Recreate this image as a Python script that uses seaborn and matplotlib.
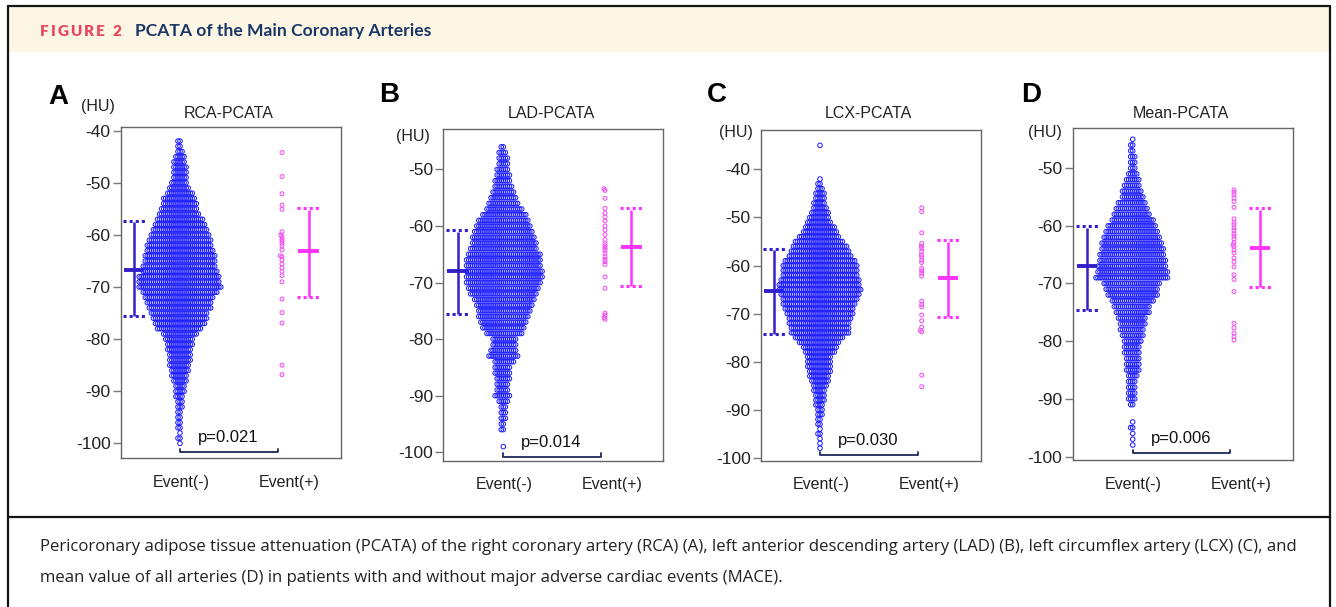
import numpy as np
import pandas as pd
import matplotlib
matplotlib.use("Agg")
import matplotlib.pyplot as plt
import seaborn as sns
from matplotlib.lines import Line2D
from matplotlib.patches import Rectangle

# ---------------- data ----------------
GROUPS = ["Event(-)", "Event(+)"]
TITLES = ["RCA-PCATA", "LAD-PCATA", "LCX-PCATA", "Mean-PCATA"]
LETTERS = ["A", "B", "C", "D"]
P_TEXTS = ["p=0.021", "p=0.014", "p=0.030", "p=0.006"]
YTICKS = [[-40, -50, -60, -70, -80, -90, -100],
          [-50, -60, -70, -80, -90, -100],
          [-40, -50, -60, -70, -80, -90, -100],
          [-50, -60, -70, -80, -90, -100]]

# HU levels (1-HU bins) for the Event(-) swarms, -35 ... -100
HU_LEVELS = list(range(-35, -101, -1))

rca_neg_counts = [0, 0, 0, 0, 0, 0, 0,
                  2, 2, 3, 5, 6, 7, 7, 7, 8, 10,
                  13, 16, 17, 18, 20, 23, 25, 27, 29, 31,
                  32, 33, 35, 35, 36, 37, 40, 40, 41, 37,
                  34, 32, 31, 28, 27, 25, 22, 17, 14, 13,
                  12, 11, 11, 10, 9, 8, 7, 5, 5, 4,
                  3, 3, 2, 2, 2, 2, 1, 2, 1]
lad_neg_counts = [0, 0, 0, 0, 0, 0, 0, 0, 0, 0, 0,
                  2, 4, 5, 5, 6, 7, 8, 9, 11, 13,
                  15, 18, 22, 25, 27, 29, 31, 32, 33, 36,
                  37, 37, 38, 38, 37, 35, 33, 30, 28, 26,
                  25, 23, 21, 18, 12, 12, 13, 15, 10, 8,
                  8, 7, 6, 6, 8, 5, 3, 3, 3, 2,
                  2, 0, 0, 1, 0]
lcx_neg_counts = [1, 0, 0, 0, 0, 0, 0,
                  1, 2, 3, 5, 5, 6, 7, 9, 10, 12,
                  15, 17, 20, 24, 27, 29, 31, 35, 37, 37,
                  37, 39, 40, 41, 39, 37, 36, 34, 33, 31,
                  30, 29, 29, 24, 20, 17, 15, 12, 12, 12,
                  11, 10, 9, 7, 6, 5, 5, 4, 3, 3,
                  2, 2, 1, 2, 1, 1, 1, 0, 0]
mean_neg_counts = [0, 0, 0, 0, 0, 0, 0, 0, 0, 0,
                   1, 2, 2, 3, 3, 3, 5, 7, 8, 10,
                   11, 14, 16, 18, 21, 24, 26, 28, 30, 31,
                   32, 33, 34, 35, 36, 28, 26, 25, 21, 18,
                   17, 14, 13, 12, 11, 9, 8, 8, 7, 7,
                   7, 5, 4, 4, 4, 4, 2, 0, 0, 1,
                   2, 1, 1, 1, 0, 0]

# Event(+) individual values (HU)
rca_pos = [-44.2, -48.8, -52.1, -54.3, -55.1, -59.4, -60.0, -60.3, -60.8, -61.2,
           -61.6, -62.1, -62.9, -64.0, -64.2, -64.8, -65.6, -66.3, -67.0, -67.8,
           -69.0, -72.3, -74.9, -76.9, -85.0, -86.8]
lad_pos = [-53.4, -53.7, -55.1, -56.9, -57.7, -58.4, -59.1, -60.0, -60.7, -61.5,
           -62.4, -63.1, -63.5, -63.9, -64.3, -64.8, -65.4, -65.9, -66.3, -66.8,
           -69.0, -71.0, -75.4, -75.8, -76.2, -76.5]
lcx_pos = [-48.0, -48.8, -53.2, -55.4, -56.0, -56.4, -57.1, -57.8, -58.2, -58.9,
           -59.4, -60.6, -61.1, -61.6, -62.2, -67.4, -68.1, -68.6, -70.3, -71.5,
           -72.8, -73.5, -73.8, -82.8, -85.2]
mean_pos = [-53.8, -54.2, -54.6, -55.2, -55.8, -56.8, -58.8, -59.4, -59.8, -60.4,
            -60.8, -61.4, -61.8, -62.3, -62.9, -63.3, -63.6, -64.2, -64.7, -65.6,
            -66.2, -67.1, -68.5, -69.3, -71.4, -76.9, -77.7, -78.6, -79.2, -79.8]

NEG_COUNTS = [rca_neg_counts, lad_neg_counts, lcx_neg_counts, mean_neg_counts]
POS_VALUES = [rca_pos, lad_pos, lcx_pos, mean_pos]

# summary bars: (mean, upper, lower)
neg_stats = [(-66.7, -57.3, -75.6), (-67.9, -60.7, -75.6),
             (-65.3, -56.5, -74.2), (-66.9, -60.0, -74.6)]
pos_stats = [(-63.0, -54.9, -72.0), (-63.7, -56.9, -70.6),
             (-62.5, -54.7, -70.8), (-63.8, -56.9, -70.6)]

# bracket / p-text heights (HU)
bracket_y = [-101.6, -100.8, -99.45, -99.4]
ptext_y = [-98.8, -98.2, -96.3, -96.9]

HEADER_TAG = "FIGURE 2"
HEADER_TITLE = "PCATA of the Main Coronary Arteries"
CAPTION1 = ("Pericoronary adipose tissue attenuation (PCATA) of the right coronary artery (RCA) (A), "
            "left anterior descending artery (LAD) (B), left circumflex artery (LCX) (C), and")
CAPTION2 = "mean value of all arteries (D) in patients with and without major adverse cardiac events (MACE)."

# ---------------- layout (pixels) ----------------
W, H = 1336, 607
BOXES = [(121, 127, 341, 458), (443.3, 129.3, 663.3, 460.7),
         (761, 130, 980.7, 460.7), (1072.7, 128.3, 1292.7, 460)]
YLIMS = [(-102.8, -39.3), (-101.5, -42.9), (-100.6, -31.8), (-100.6, -43.1)]
XC0 = [180, 503.3, 820, 1132.7]
UNIT = [102, 101.7, 101.7, 101.3]
LETTER_POS = [(58, 97), (389, 95), (717, 95), (1031, 95)]
HU_POS = [(98, 107), (413, 137), (736, 133), (1045, 133)]

NEG_PT = "#2222ff"
POS_PT = "#f050f0"
NEG_BAR = "#3320c8"
POS_BAR = "#ff33ff"
BRACKET = "#1c2a55"

sns.set_theme(style="white")
plt.rcParams["font.family"] = ["Liberation Sans", "DejaVu Sans"]
plt.rcParams["axes.unicode_minus"] = False

fig = plt.figure(figsize=(W / 100, H / 100), dpi=100)
fig.patch.set_facecolor("white")


def fx(x):
    return x / W


def fy(y):
    return 1 - y / H


# header band & frame
fig.patches.append(Rectangle((fx(8), fy(52)), fx(1330) - fx(8), fy(7) - fy(52),
                             transform=fig.transFigure, facecolor="#fdf6e4",
                             edgecolor="none", zorder=0))
for xs, ys in [([8, 1330], [5.5, 5.5]), ([8, 8], [5.5, 640]), ([1330, 1330], [5.5, 640]),
               ([8, 1330], [517, 517])]:
    fig.lines.append(Line2D([fx(v) for v in xs], [fy(v) for v in ys],
                            transform=fig.transFigure, color="#151515", lw=1.6))

# letter-spaced "FIGURE 2"
renderer = fig.canvas.get_renderer()
cx = 40.0
for ch in HEADER_TAG:
    t = fig.text(fx(cx), fy(31), ch, color="#e8475c", fontsize=11, fontweight="heavy",
                 family=["Lato", "DejaVu Sans"], va="center", ha="left")
    wpx = t.get_window_extent(renderer).width if ch != " " else 4.0
    cx += wpx + 1.9

fig.text(fx(135), fy(31), HEADER_TITLE, color="#1b3768",
         fontsize=12.6, fontweight="bold", family=["Lato", "DejaVu Sans"], va="center", ha="left")
fig.text(fx(40), fy(547), CAPTION1, color="#222222", fontsize=12.1,
         family=["Open Sans", "DejaVu Sans"], va="center", ha="left")
fig.text(fx(40), fy(578), CAPTION2, color="#222222", fontsize=12.1,
         family=["Open Sans", "DejaVu Sans"], va="center", ha="left")

LAYOUT_SIZE = 0.9        # marker size used for the swarm arrangement
DISPLAY_SIZE_NEG = 3.25  # marker size drawn for Event(-)
DISPLAY_SIZE_POS = 2.8   # marker size drawn for Event(+)

axes = []
for i in range(4):
    l, t, r, b = BOXES[i]
    ax = fig.add_axes([fx(l), fy(b), fx(r) - fx(l), fy(t) - fy(b)])
    axes.append(ax)
    neg = np.repeat(np.array(HU_LEVELS, dtype=float), NEG_COUNTS[i])
    pos = np.array(POS_VALUES[i], dtype=float)
    df = pd.DataFrame({"group": [GROUPS[0]] * len(neg) + [GROUPS[1]] * len(pos),
                       "HU": np.concatenate([neg, pos])})
    sns.swarmplot(data=df, x="group", y="HU", hue="group", order=GROUPS, hue_order=GROUPS,
                  palette=[NEG_PT, POS_PT], size=LAYOUT_SIZE, linewidth=0.5,
                  legend=False, warn_thresh=1, ax=ax)
    ax.set_xlim((l - XC0[i]) / UNIT[i], (r - XC0[i]) / UNIT[i])
    ax.set_ylim(*YLIMS[i])
    ax.set_xlabel("")
    ax.set_ylabel("")
    ax.set_yticks(YTICKS[i])
    ax.set_yticklabels([str(v) for v in YTICKS[i]])
    ax.set_xticks([0.01, 1.07])
    ax.set_xticklabels(GROUPS)
    ax.tick_params(axis="x", length=0, pad=12, labelsize=11.5, labelcolor="#222222")
    ax.tick_params(axis="y", length=5.5, width=1, color="#777777", pad=2,
                   labelsize=12.5, labelcolor="#222222", left=True)
    for sp in ax.spines.values():
        sp.set_color("#666666")
        sp.set_linewidth(1.0)
    ax.set_facecolor("white")

    # summary bars
    for xc, (m, up, lo), col in [(-0.45, neg_stats[i], NEG_BAR), (1.26, pos_stats[i], POS_BAR)]:
        ax.plot([xc, xc], [up - 0.3, lo], color=col, lw=1.8, solid_capstyle="butt")
        ax.plot([xc - 0.1, xc + 0.1], [m, m], color=col, lw=2.8, solid_capstyle="butt")
        for yy in (up, lo):
            ax.plot([xc - 0.11, xc + 0.12], [yy, yy], color=col, lw=2.2,
                    linestyle=(0, (1, 1)), dash_capstyle="butt")

    # bracket with p value
    by = bracket_y[i]
    x1 = 0.96
    ax.plot([0, 0, x1, x1], [by + 0.6, by, by, by + 0.6], color=BRACKET, lw=1.3,
            clip_on=False)
    ax.text(0.475, ptext_y[i], P_TEXTS[i], ha="center", va="center", fontsize=12,
            color="#111111")

    # title, letter, unit
    fig.text(fx((l + r) / 2 - 2), fy(113), TITLES[i], ha="center", va="center",
             fontsize=11.5, color="#222222")
    fig.text(fx(LETTER_POS[i][0]), fy(LETTER_POS[i][1]), LETTERS[i], ha="center",
             va="center", fontsize=20, fontweight="bold", color="#000000")
    fig.text(fx(HU_POS[i][0]), fy(HU_POS[i][1]), "(HU)", ha="center", va="center",
             fontsize=11.5, color="#222222")

# compute the swarm arrangement, then draw the markers as open circles
fig.canvas.draw()
for ax in axes:
    for k, coll in enumerate(ax.collections):
        coll.__dict__.pop("draw", None)
        fc = coll.get_facecolors()
        coll.set_edgecolors(fc)
        coll.set_facecolors("none")
        size = DISPLAY_SIZE_NEG if k == 0 else DISPLAY_SIZE_POS
        coll.set_sizes([size ** 2])
        coll.set_linewidths(0.75)

fig.savefig("out.png", dpi=100, facecolor="white")
